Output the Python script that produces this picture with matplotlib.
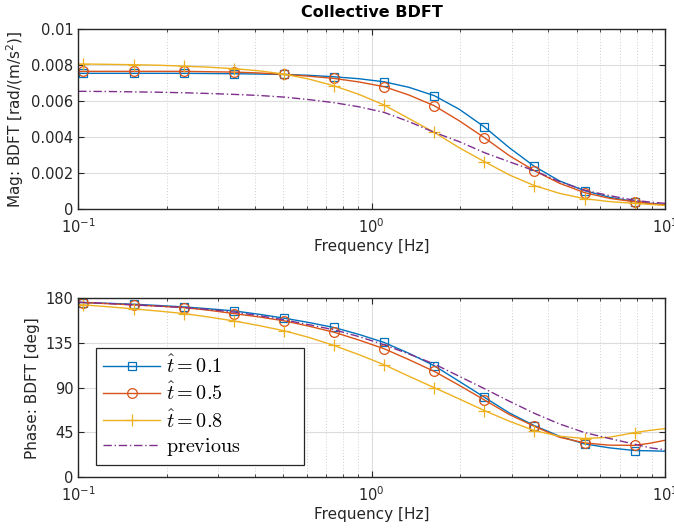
import numpy as np
import matplotlib
matplotlib.use('Agg')
import matplotlib.pyplot as plt
from matplotlib.ticker import FixedLocator, FuncFormatter, LogLocator
from matplotlib.font_manager import FontProperties

# frequencies (Hz) where the curves were read; markers sit on every other point
freq = [0.1, 0.1042, 0.127, 0.1545, 0.188, 0.2291, 0.279, 0.3388, 0.413, 0.5023,
        0.611, 0.743, 0.905, 1.102, 1.341, 1.633, 1.988, 2.421, 2.945, 3.581,
        4.36, 5.309, 6.46, 7.87, 8.9, 10.0]
marker_idx = list(range(1, 24, 2))

# magnitude [rad/(m/s^2)]
mag_t01 = [0.00754, 0.00754, 0.00754, 0.00754, 0.00754, 0.00754, 0.00753, 0.00752, 0.0075, 0.00748,
           0.00743, 0.00735, 0.00724, 0.00707, 0.00676, 0.0063, 0.00554, 0.00456, 0.0034, 0.00237,
           0.00156, 0.00102, 0.00065, 0.00041, 0.00031, 0.00024]
mag_t05 = [0.00765, 0.00765, 0.00765, 0.00765, 0.00765, 0.00765, 0.00763, 0.00761, 0.00756, 0.00748,
           0.00738, 0.00726, 0.00706, 0.0068, 0.00633, 0.00574, 0.0049, 0.00396, 0.00296, 0.00213,
           0.00143, 0.00091, 0.00059, 0.0004, 0.0003, 0.00022]
mag_t08 = [0.00806, 0.00806, 0.00804, 0.00802, 0.00799, 0.00794, 0.00788, 0.0078, 0.00768, 0.0075,
           0.00722, 0.00685, 0.00637, 0.00578, 0.00502, 0.00426, 0.0034, 0.00263, 0.00189, 0.0013,
           0.00087, 0.00057, 0.00041, 0.00031, 0.00025, 0.0002]
mag_prev = [0.00654, 0.00654, 0.00653, 0.00651, 0.00649, 0.00646, 0.00642, 0.00637, 0.00631, 0.00622,
            0.00608, 0.00591, 0.00568, 0.00537, 0.00485, 0.00426, 0.00374, 0.00313, 0.00262, 0.00213,
            0.00152, 0.00104, 0.00074, 0.00048, 0.00038, 0.00031]

# phase [deg]
ph_t01 = [176, 175.8, 175, 174.1, 172.8, 171.4, 169.5, 167.4, 164, 160.1,
          155.7, 150.7, 143.7, 135.6, 124.6, 112.2, 96.4, 80.4, 64.6, 51.9,
          41.2, 33.5, 29.5, 26.8, 26.5, 26.1]
ph_t05 = [176, 175.8, 174.6, 173.4, 172.1, 170.7, 168, 164.7, 161.3, 157.4,
          152, 146, 138, 129.3, 118.2, 106.5, 92.4, 77.7, 63, 51.2,
          40.2, 34.5, 32.2, 32, 34.2, 37.2]
ph_t08 = [173.6, 173.4, 171.5, 169.4, 167.2, 164.7, 161.2, 157.3, 152.6, 147.4,
          140.7, 132.6, 123.3, 113.2, 101.5, 90.1, 78.7, 67, 56.3, 46.9,
          41.2, 38.9, 40.2, 44.9, 47.2, 48.9]
ph_prev = [176, 175.8, 174.8, 173.5, 172.2, 170.8, 168.8, 166.2, 162.6, 158.4,
           153.5, 148.4, 141.5, 133.3, 123.9, 113.9, 101.5, 89.1, 76.4, 64.3,
           53.6, 44.9, 38.9, 33.2, 29.5, 27.5]

labels = [r'$\hat{t} = 0.1$', r'$\hat{t} = 0.5$', r'$\hat{t} = 0.8$', r'$\mathrm{previous}$']
colors = ['#0072BD', '#D95319', '#EDB120', '#7E2F8E']
mag_ticks = [0, 0.002, 0.004, 0.006, 0.008, 0.01]
ph_ticks = [0, 45, 90, 135, 180]

axc = '#262626'
plt.rcParams['font.size'] = 10.5
plt.rcParams['axes.edgecolor'] = axc
plt.rcParams['xtick.color'] = axc
plt.rcParams['ytick.color'] = axc

fig = plt.figure(figsize=(6.74, 5.29), dpi=100)
ax1 = fig.add_axes([0.116, 0.605, 0.871, 0.340])
ax2 = fig.add_axes([0.116, 0.098, 0.871, 0.338])


def style(ax):
    ax.set_xscale('log')
    ax.set_xlim(0.1, 10)
    ax.xaxis.set_minor_locator(LogLocator(base=10, subs=np.arange(2, 10)))
    ax.tick_params(which='both', direction='in', top=True, right=True, labelsize=10.5)
    ax.tick_params(which='major', length=4)
    ax.tick_params(which='minor', length=2.5)
    ax.tick_params(axis='x', pad=6)
    ax.grid(True, which='major', color='#dcdcdc', lw=0.8, ls='-')
    ax.grid(True, which='minor', axis='x', color='#d0d0d0', lw=0.7, ls=(0, (1, 2)))
    ax.set_axisbelow(True)
    for s in ax.spines.values():
        s.set_linewidth(1.0)
    ax.set_xlabel('Frequency [Hz]', fontsize=11, color=axc, labelpad=2)


mk = dict(markevery=marker_idx, mfc='none', lw=1.0, mew=0.9)

ax1.plot(freq, mag_t01, color=colors[0], marker='s', ms=6, **mk)
ax1.plot(freq, mag_t05, color=colors[1], marker='o', ms=7, **mk)
ax1.plot(freq, mag_t08, color=colors[2], marker='+', ms=8, **mk)
ax1.plot(freq, mag_prev, color=colors[3], lw=1.0, ls=(0, (6, 2, 1, 2)))
style(ax1)
ax1.set_ylim(0, 0.01)
ax1.yaxis.set_major_locator(FixedLocator(mag_ticks))
ax1.yaxis.set_major_formatter(FuncFormatter(lambda v, p: '%g' % v))
ax1.set_ylabel(r'Mag: BDFT [rad/(m/s$^2$)]', fontsize=11, color=axc)
ax1.set_title('Collective BDFT', fontsize=11.5, fontweight='bold', pad=9)

ax2.plot(freq, ph_t01, color=colors[0], marker='s', ms=6, label=labels[0], **mk)
ax2.plot(freq, ph_t05, color=colors[1], marker='o', ms=7, label=labels[1], **mk)
ax2.plot(freq, ph_t08, color=colors[2], marker='+', ms=8, label=labels[2], **mk)
ax2.plot(freq, ph_prev, color=colors[3], lw=1.0, ls=(0, (6, 2, 1, 2)), label=labels[3])
style(ax2)
ax2.set_ylim(0, 180)
ax2.yaxis.set_major_locator(FixedLocator(ph_ticks))
ax2.set_ylabel('Phase: BDFT [deg]', fontsize=11, color=axc)

leg = ax2.legend(loc='lower left', bbox_to_anchor=(0.031, 0.068, 0.354, 0.638), mode='expand',
                 prop=FontProperties(size=14.5, math_fontfamily='cm'), fancybox=False,
                 edgecolor=axc, framealpha=1, handlelength=2.8, labelspacing=0.22,
                 borderpad=0.35, handletextpad=0.3, borderaxespad=0)
leg.get_frame().set_linewidth(0.9)

fig.savefig('out.png', dpi=100)
